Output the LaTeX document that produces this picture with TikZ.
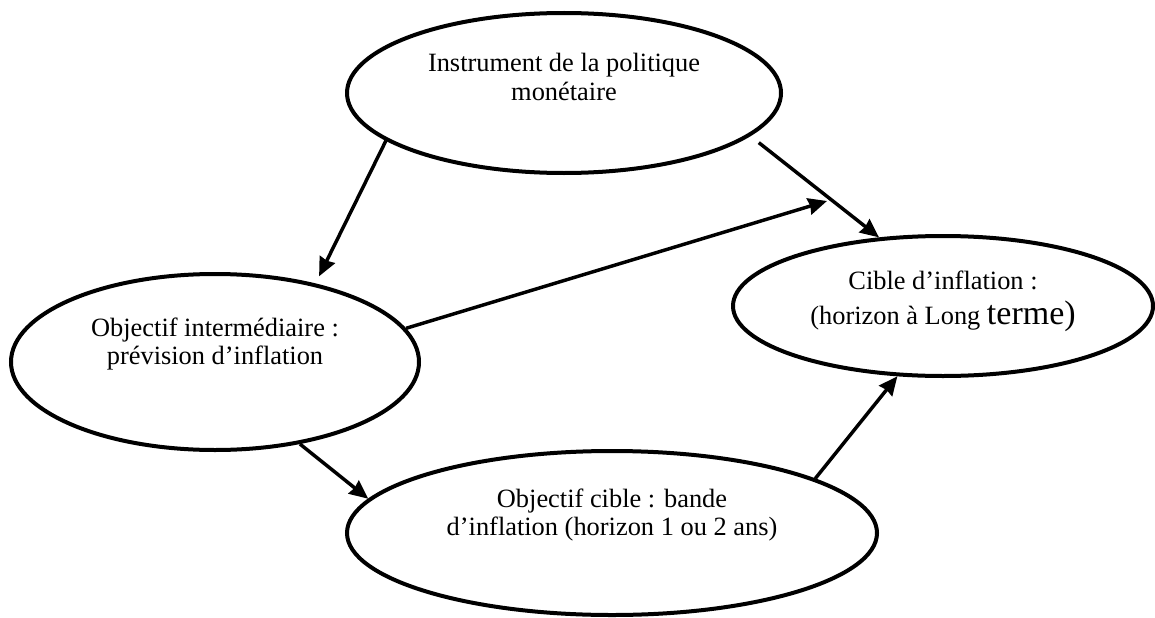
\documentclass[tikz,border=0pt]{standalone}
\usepackage{fontspec}
\setmainfont{Liberation Serif}
\usetikzlibrary{shapes.geometric,arrows.meta}

\begin{document}
\begin{tikzpicture}[x=0.75pt, y=-0.75pt,
        bulle/.style={draw, ellipse, line width=3pt, inner sep=0pt, align=center,
            font=\fontsize{19.8}{21.4}\selectfont},
        fleche/.style={-{Stealth[length=14pt, width=12.5pt, inset=1pt]}, line width=2.6pt}]
        \useasboundingbox (0, 0) rectangle (1155, 617);
        % les quatre ellipses
        \node[bulle, minimum width=325.5pt, minimum height=120pt, text depth=24pt] (instr) at (564, 93) {Instrument de la politique\\monétaire};
        \node[bulle, minimum width=306pt, minimum height=132pt, text depth=31.5pt] (inter) at (215, 362) {Objectif intermédiaire :\\prévision d’inflation};
        \node[bulle, minimum width=315pt, minimum height=105pt, text depth=12.75pt] (cible) at (943, 306) {Cible d’inflation :\\[5pt](horizon à Long {\fontsize{25.5}{27}\selectfont terme)}};
        \node[bulle, minimum width=397.5pt, minimum height=123pt, text depth=31.5pt] (bande) at (612, 533) {Objectif cible : bande\\d’inflation (horizon 1 ou 2 ans)};
        \coordinate (pointe) at (827, 201);
        % les fleches
        \draw[fleche, shorten >=6pt] (instr.195) -- (inter.38);
        \draw[fleche, shorten <=8pt] (instr.347) -- (cible.133);
        \draw[fleche] (inter.10) -- (pointe);
        \draw[fleche] (inter.316) -- (bande.172);
        \draw[fleche] (bande.15) -- (cible.237);
    \end{tikzpicture}
\end{document}
